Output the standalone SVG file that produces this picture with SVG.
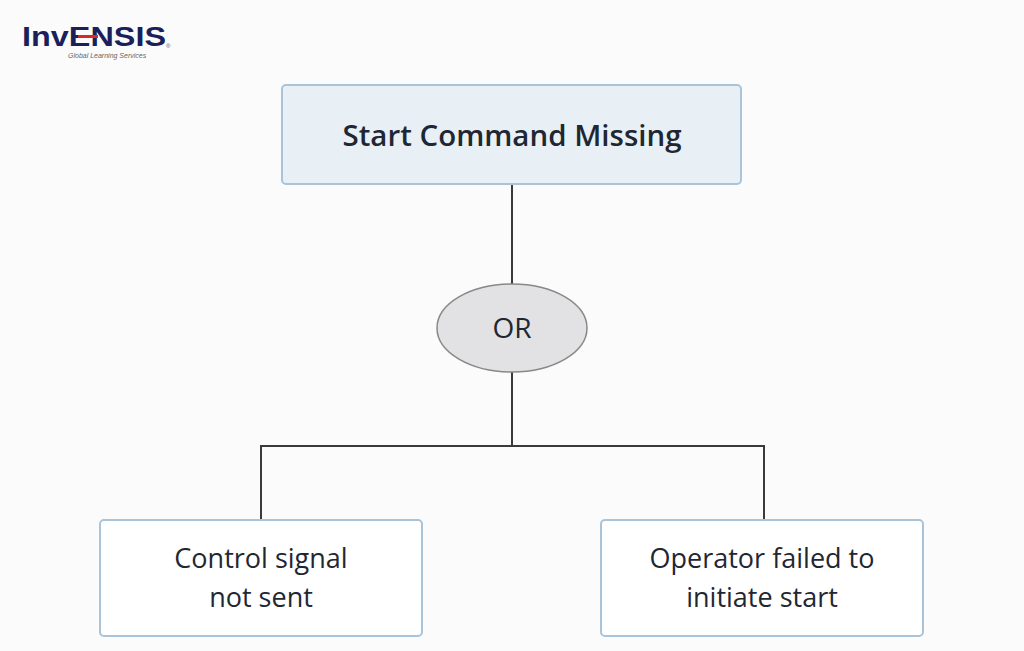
<svg xmlns="http://www.w3.org/2000/svg" width="1024" height="651" viewBox="0 0 1024 651">
<style>
.t{font-family:"Open Sans",Lato,sans-serif;fill:#1f2733;text-anchor:middle;font-size:27px;font-weight:500}
.box{fill:#fff;stroke:#a9c3d8;stroke-width:2}
.c{stroke:#3a3a3a;stroke-width:2;fill:none}
</style>
<rect width="1024" height="651" fill="#fbfbfb"/>
<g id="logo">
<text x="22" y="46" textLength="144" lengthAdjust="spacingAndGlyphs" style="font-family:'Liberation Sans',sans-serif;font-weight:bold;font-size:27px;fill:#1b1f5c">InvENSIS</text>
<rect x="78" y="35" width="20" height="3" fill="#d32a2a"/>
<text x="166" y="48" style="font-family:'Liberation Sans',sans-serif;font-size:6px;fill:#555">®</text>
<text x="68" y="58" style="font-family:'Liberation Sans',sans-serif;font-style:italic;font-size:7px;fill:#666">Global Learning Services</text>
</g>
<g id="connectors">
<line class="c" x1="512" y1="184" x2="512" y2="284"/>
<line class="c" x1="512" y1="372" x2="512" y2="446"/>
<polyline class="c" points="261,520 261,446 764,446 764,520"/>
</g>
<g id="top">
<rect x="282" y="85" width="459" height="99" rx="4" fill="#e8f0f6" stroke="#a9c3d8" stroke-width="2"/>
<text class="t" x="512" y="146" textLength="339" lengthAdjust="spacingAndGlyphs" style="font-weight:600;font-size:29px">Start Command Missing</text>
</g>
<g id="or">
<ellipse cx="512" cy="328" rx="75" ry="44" fill="#e2e2e5" stroke="#888" stroke-width="1.5"/>
<text class="t" x="512" y="338" style="font-size:28px">OR</text>
</g>
<g id="left">
<rect class="box" x="100" y="520" width="322" height="116" rx="4"/>
<text class="t" x="261" y="568">Control signal</text>
<text class="t" x="261" y="607">not sent</text>
</g>
<g id="right">
<rect class="box" x="601" y="520" width="322" height="116" rx="4"/>
<text class="t" x="762" y="568">Operator failed to</text>
<text class="t" x="762" y="607">initiate start</text>
</g>
</svg>
